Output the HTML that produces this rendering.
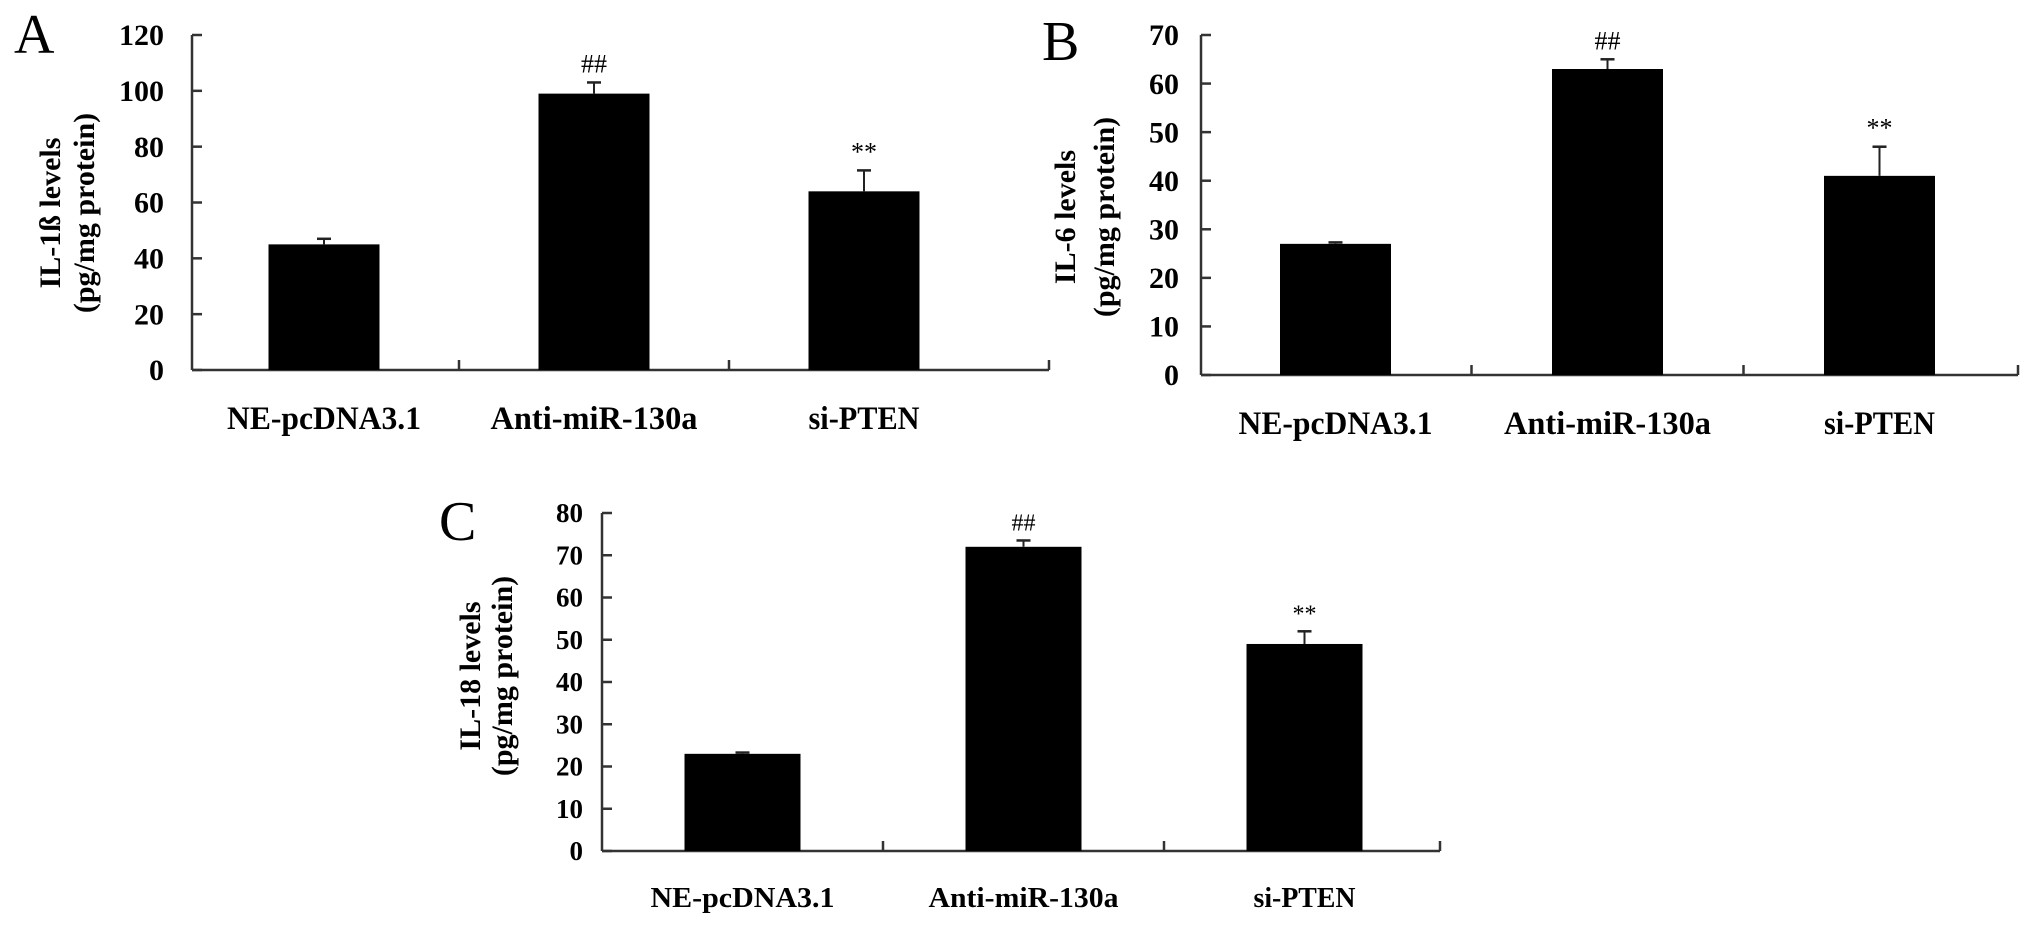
<!DOCTYPE html>
<html><head><meta charset="utf-8"><style>
html,body{margin:0;padding:0;background:#fff;}
svg{display:block;font-family:"Liberation Serif","Times New Roman",serif;}
</style></head><body>
<svg id="fig" width="2031" height="926" viewBox="0 0 2031 926"></svg>
<script>
const categories = ["NE-pcDNA3.1", "Anti-miR-130a", "si-PTEN"];
const valuesA = [45, 99, 64];
const errorsA = [2, 4, 7.5];
const valuesB = [27, 63, 41];
const errorsB = [0.3, 2, 6];
const valuesC = [23, 72, 49];
const errorsC = [0.3, 1.5, 3];
const ticksA = [0, 20, 40, 60, 80, 100, 120];
const ticksB = [0, 10, 20, 30, 40, 50, 60, 70];
const ticksC = [0, 10, 20, 30, 40, 50, 60, 70, 80];
const marksAll = ["", "##", "**"];
const titlesA = ["IL-1\u00DF levels", "(pg/mg protein)"];
const titlesB = ["IL-6 levels", "(pg/mg protein)"];
const titlesC = ["IL-18 levels", "(pg/mg protein)"];

const NS = "http://www.w3.org/2000/svg";
const svg = document.getElementById("fig");
function mk(tag, attrs, parent, text) {
  const e = document.createElementNS(NS, tag);
  for (const k in attrs) e.setAttribute(k, attrs[k]);
  if (text !== undefined) e.textContent = text;
  (parent || svg).appendChild(e);
  return e;
}

function panel(cfg) {
  const g = mk("g", {});
  
  
  const y = v => cfg.y0 - (v / cfg.max) * (cfg.y0 - cfg.yTop);
  const x = i => cfg.ax + cfg.off + i * cfg.step;
  const L = mk("text", {x: cfg.lx, y: cfg.ly, "font-size": 56}, g, cfg.id);
  
  
  const ya = mk("line", {x1: cfg.ax, y1: cfg.yTop, x2: cfg.ax, y2: cfg.y0, stroke: "#333", "stroke-width": 2.5}, g);
  
  
  const xa = mk("line", {x1: cfg.ax, y1: cfg.y0, x2: cfg.xEnd, y2: cfg.y0, stroke: "#333", "stroke-width": 2.5}, g);
  
  
  cfg.ticks.forEach(t => {
    const tl = mk("line", {x1: cfg.ax, y1: y(t), x2: cfg.ax + 10, y2: y(t), stroke: "#333", "stroke-width": 2.5}, g);
    
    
    const tt = mk("text", {x: cfg.ax - cfg.tgap, y: y(t) + cfg.tfs * 0.34, "font-size": cfg.tfs, "font-weight": "bold", "text-anchor": "end"}, g, String(t));
    
    
  });
  for (let i = 0; i < categories.length - 1; i++) {
    const mx = (x(i) + x(i + 1)) / 2;
    const ct = mk("line", {x1: mx, y1: cfg.y0, x2: mx, y2: cfg.y0 - 10, stroke: "#333", "stroke-width": 2.5}, g);
    
    
  }
  mk("line", {x1: cfg.xEnd, y1: cfg.y0, x2: cfg.xEnd, y2: cfg.y0 - 10, stroke: "#333", "stroke-width": 2.5}, g);
  categories.forEach((c, i) => {
    const v = cfg.values[i], e = cfg.errors[i];
    const b = mk("rect", {x: x(i) - cfg.bw / 2, y: y(v), width: cfg.bw, height: cfg.y0 - y(v), fill: "#000"}, g);
    
    
    const el = mk("line", {x1: x(i), y1: y(v), x2: x(i), y2: y(v + e), stroke: "#222", "stroke-width": 2}, g);
    
    
    mk("line", {x1: x(i) - 7, y1: y(v + e), x2: x(i) + 7, y2: y(v + e), stroke: "#222", "stroke-width": 2.5}, g);
    if (marksAll[i]) {
      const m = mk("text", {x: x(i), y: y(v + e) - 10, "font-size": cfg.mfs, "text-anchor": "middle"}, g, marksAll[i]);
      
      
    }
    const cl = mk("text", {x: x(i), y: cfg.y0 + cfg.lgap, "font-size": cfg.cfs, "font-weight": "bold", "text-anchor": "middle", textLength: cfg.clen[i], lengthAdjust: "spacingAndGlyphs"}, g, c);
    
    
  });
  cfg.titles.forEach((t, k) => {
    const tx = cfg.tx[k];
    const tt = mk("text", {x: tx, y: cfg.tcy, "font-size": cfg.titfs, "font-weight": "bold", "text-anchor": "middle", transform: "rotate(-90 " + tx + " " + cfg.tcy + ")"}, g, t);
    
    
  });
}

panel({id: "A", lx: 14, ly: 53, ax: 192, yTop: 35, y0: 370, max: 120, ticks: ticksA, off: 132, step: 270, bw: 111, xEnd: 1049,
  values: valuesA, errors: errorsA, tgap: 28, tfs: 30, mfs: 26, cfs: 33, lgap: 59, clen: [194, 207, 111],
  titles: titlesA, tx: [60, 94], tcy: 213, titfs: 30});
panel({id: "B", lx: 1042, ly: 60, ax: 1201, yTop: 35, y0: 375, max: 70, ticks: ticksB, off: 134.5, step: 272, bw: 111, xEnd: 2018,
  values: valuesB, errors: errorsB, tgap: 22, tfs: 30, mfs: 26, cfs: 33, lgap: 59, clen: [194, 207, 111],
  titles: titlesB, tx: [1075, 1114], tcy: 217, titfs: 30});
panel({id: "C", lx: 439, ly: 540, ax: 602, yTop: 513, y0: 851, max: 80, ticks: ticksC, off: 140.5, step: 281, bw: 116, xEnd: 1440,
  values: valuesC, errors: errorsC, tgap: 19, tfs: 27, mfs: 24, cfs: 29, lgap: 56, clen: [184, 190, 102],
  titles: titlesC, tx: [480, 512], tcy: 676, titfs: 30});
</script>
</body></html>
